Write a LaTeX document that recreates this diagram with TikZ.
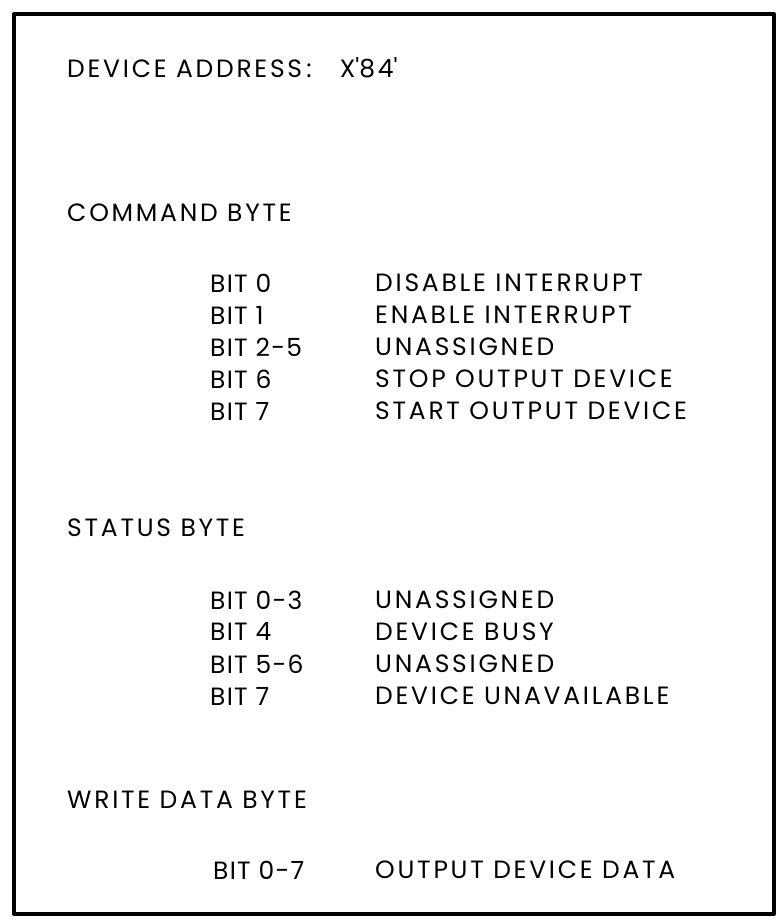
\documentclass[tikz,border=0pt]{standalone}
\usepackage{fontspec}
\setmainfont{Poppins}[LetterSpace=11]
\newfontfamily\bitfont{Poppins}[LetterSpace=5]
\begin{document}
\begin{tikzpicture}[x=1pt,y=-1pt,
  txt/.style={anchor=west,inner sep=0pt,font=\fontsize{25}{28}\selectfont},
  bit/.style={txt,font=\fontsize{25}{28}\bitfont},
  frame/.style={draw=black,line width=4pt,line join=round}]
\useasboundingbox (0,0) rectangle (780,924);
\draw[frame] (14,14) rectangle (774,914);
\node[txt] (addr) at (67,68) {DEVICE ADDRESS\,:\ \ \ X\textquotesingle 84\textquotesingle};
\node[txt] (cmd) at (67,213) {COMMAND BYTE};
\node[bit] (c0b) at (210,283) {BIT 0};
\node[txt] (c0d) at (375,283) {DISABLE INTERRUPT};
\node[bit] (c1b) at (210,315) {BIT 1};
\node[txt] (c1d) at (375,315) {ENABLE INTERRUPT};
\node[bit] (c2b) at (210,347) {BIT 2-5};
\node[txt] (c2d) at (375,347) {UNASSIGNED};
\node[bit] (c6b) at (210,379) {BIT 6};
\node[txt] (c6d) at (375,379) {STOP OUTPUT DEVICE};
\node[bit] (c7b) at (210,411) {BIT 7};
\node[txt] (c7d) at (375,411) {START OUTPUT DEVICE};
\node[txt] (st) at (67,528) {STATUS BYTE};
\node[bit] (s0b) at (210,600) {BIT 0-3};
\node[txt] (s0d) at (375,600) {UNASSIGNED};
\node[bit] (s4b) at (210,632) {BIT 4};
\node[txt] (s4d) at (375,632) {DEVICE BUSY};
\node[bit] (s5b) at (210,664) {BIT 5-6};
\node[txt] (s5d) at (375,664) {UNASSIGNED};
\node[bit] (s7b) at (210,696) {BIT 7};
\node[txt] (s7d) at (375,696) {DEVICE UNAVAILABLE};
\node[txt] (wr) at (67,800) {WRITE DATA BYTE};
\node[bit] (w0b) at (213,870) {BIT 0-7};
\node[txt] (w0d) at (375,870) {OUTPUT DEVICE DATA};
\end{tikzpicture}
\end{document}
